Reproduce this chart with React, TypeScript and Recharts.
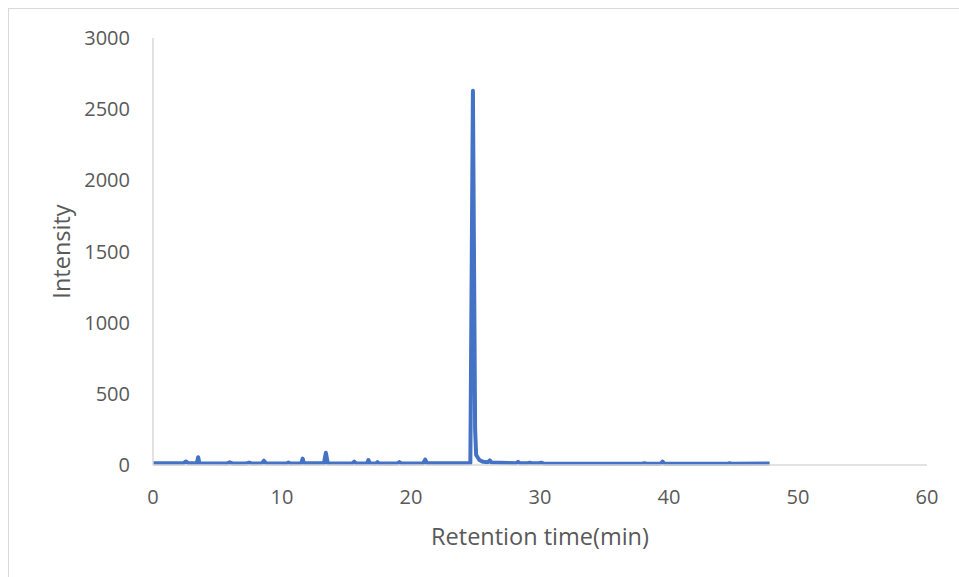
import React from 'react';
import { LineChart, Line, XAxis, YAxis } from 'recharts';

const retentionTime = [
  0, 2.35, 2.55, 2.75, 3.4, 3.5, 3.6, 5.75, 5.95, 6.15, 7.25, 7.45, 7.65,
  8.45, 8.6, 8.75, 10.35, 10.5, 10.65, 11.5, 11.6, 11.7, 13.25, 13.4, 13.55,
  15.45, 15.6, 15.75, 16.6, 16.7, 16.8, 17.3, 17.4, 17.5, 18.95, 19.1, 19.25,
  20.95, 21.1, 21.25, 24.6, 24.8, 24.97, 25.05, 25.3, 25.6, 25.95, 26.1, 26.25,
  28.15, 28.3, 28.45, 29.05, 29.2, 29.35, 29.95, 30.1, 30.25, 37.95, 38.1, 38.25,
  39.35, 39.5, 39.65, 44.55, 44.7, 44.85, 47.8,
];

const intensity = [
  12, 12, 25, 12, 12, 55, 12, 11, 19, 11, 11, 17, 11,
  12, 30, 12, 11, 18, 11, 12, 45, 12, 12, 86, 12,
  11, 24, 11, 12, 35, 12, 11, 20, 11, 11, 20, 11,
  12, 38, 12, 12, 2630, 250, 70, 35, 22, 20, 32, 17,
  13, 22, 13, 12, 16, 12, 12, 16, 11, 9, 13, 9,
  9, 24, 9, 9, 12, 9, 10,
];

const xTicks = [0, 10, 20, 30, 40, 50, 60];
const yTicks = [0, 500, 1000, 1500, 2000, 2500, 3000];

const xTitle = 'Retention time(min)';
const yTitle = 'Intensity';

const data = retentionTime.map((t, i) => ({ t, v: intensity[i] }));

const textColor = '#595959';
const axisColor = '#d9d9d9';
const fontFamily = '"Open Sans", sans-serif';

const YTitle = (props: any) => {
  const vb = props.viewBox || {};
  const cx = vb.x - 32;
  const cy = vb.y + vb.height / 2;
  return (
    <text
      x={cx}
      y={cy}
      transform={`rotate(-90, ${cx}, ${cy})`}
      textAnchor="middle"
      dominantBaseline="central"
      fill={textColor}
      fontSize={23.5}
      fontFamily={fontFamily}
    >
      {yTitle}
    </text>
  );
};

const XTitle = (props: any) => {
  const vb = props.viewBox || {};
  return (
    <text
      x={vb.x + vb.width / 2}
      y={vb.y + 71}
      textAnchor="middle"
      dominantBaseline="central"
      fill={textColor}
      fontSize={23.5}
      fontFamily={fontFamily}
    >
      {xTitle}
    </text>
  );
};

export default function App() {
  return (
    <div
      style={{
        position: 'fixed',
        left: 8,
        top: 8,
        width: 951,
        height: 569,
        borderLeft: `1px solid ${axisColor}`,
        borderTop: `1px solid ${axisColor}`,
        overflow: 'hidden',
        background: '#fff',
      }}
    >
      <LineChart
        width={950}
        height={568}
        data={data}
        margin={{ top: 29, right: 32, left: 84, bottom: 82 }}
      >
        <XAxis
          dataKey="t"
          type="number"
          domain={[0, 60]}
          ticks={xTicks}
          interval={0}
          height={30}
          tickLine={false}
          tickSize={0}
          tickMargin={25}
          axisLine={{ stroke: axisColor, strokeWidth: 1.5 }}
          tick={{ fill: textColor, fontSize: 20, fontFamily }}
          label={<XTitle />}
        />
        <YAxis
          type="number"
          domain={[0, 3000]}
          ticks={yTicks}
          interval={0}
          width={60}
          tickLine={false}
          tickSize={0}
          tickMargin={23}
          axisLine={{ stroke: axisColor, strokeWidth: 1.5 }}
          tick={{ fill: textColor, fontSize: 20, fontFamily }}
          label={<YTitle />}
        />
        <Line
          type="linear"
          dataKey="v"
          stroke="#4472C4"
          strokeWidth={4}
          dot={false}
          isAnimationActive={false}
          strokeLinejoin="round"
        />
      </LineChart>
    </div>
  );
}
